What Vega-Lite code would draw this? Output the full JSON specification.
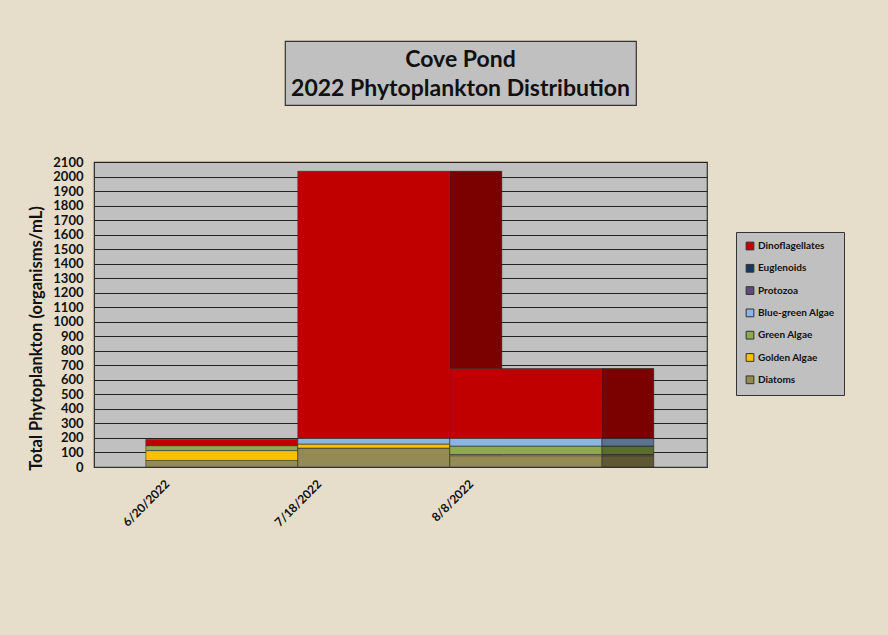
{
  "$schema": "https://vega.github.io/schema/vega-lite/v6.json",
  "background": "#E6DECB",
  "padding": {"left": 28, "top": 40, "right": 60, "bottom": 120},
  "config": {
    "font": "Lato",
    "view": {"fill": "#C0C0C0", "stroke": "#333333", "strokeWidth": 1.2}
  },
  "datasets": {
    "plankton": [
      {"date": "6/20/2022", "group": "Diatoms", "count": 45},
      {"date": "6/20/2022", "group": "Golden Algae", "count": 68},
      {"date": "6/20/2022", "group": "Green Algae", "count": 34},
      {"date": "6/20/2022", "group": "Dinoflagellates", "count": 43},
      {"date": "7/18/2022", "group": "Diatoms", "count": 130},
      {"date": "7/18/2022", "group": "Golden Algae", "count": 28},
      {"date": "7/18/2022", "group": "Blue-green Algae", "count": 40},
      {"date": "7/18/2022", "group": "Dinoflagellates", "count": 1838},
      {"date": "8/8/2022", "group": "Diatoms", "count": 78},
      {"date": "8/8/2022", "group": "Golden Algae", "count": 8},
      {"date": "8/8/2022", "group": "Green Algae", "count": 58},
      {"date": "8/8/2022", "group": "Blue-green Algae", "count": 54},
      {"date": "8/8/2022", "group": "Dinoflagellates", "count": 480}
    ]
  },
  "spacing": 49,
  "vconcat": [
    {
      "spacing": 10,
      "hconcat": [
        {
          "width": 179,
          "height": 64,
          "view": {"fill": "transparent", "stroke": "transparent"},
          "data": {"values": []},
          "mark": {"type": "text"},
          "encoding": {}
        },
        {
          "width": 351,
          "height": 64,
          "view": {"fill": "#C0C0C0", "stroke": "#333333", "strokeWidth": 1.2},
          "data": {"values": [{}]},
          "mark": {
            "type": "text",
            "text": ["Cove Pond", "2022 Phytoplankton Distribution"],
            "fontSize": 23,
            "fontWeight": "bold",
            "lineHeight": 29,
            "color": "#111111",
            "align": "center",
            "baseline": "middle",
            "dy": -13
          },
          "encoding": {}
        }
      ]
    },
    {
      "width": 613,
      "height": 305,
      "data": {"name": "plankton"},
      "transform": [
        {"window": [{"op": "row_number", "as": "rank"}], "groupby": ["date"]}
      ],
      "encoding": {
        "x": {
          "field": "date",
          "type": "nominal",
          "sort": null,
          "scale": {"paddingInner": 0, "paddingOuter": 0.517, "align": 0.33},
          "axis": {
            "title": null,
            "labelAngle": -45,
            "labelFontSize": 12,
            "labelFontWeight": "bold",
            "labelColor": "#111111",
            "ticks": false,
            "labelOffset": -58,
            "labelPadding": 11,
            "domainColor": "#333333",
            "grid": false
          }
        },
        "y": {
          "field": "count",
          "type": "quantitative",
          "aggregate": "sum",
          "stack": "zero",
          "scale": {"domain": [0, 2100], "nice": false},
          "axis": {
            "values": [0, 100, 200, 300, 400, 500, 600, 700, 800, 900, 1000, 1100, 1200, 1300, 1400, 1500, 1600, 1700, 1800, 1900, 2000, 2100],
            "format": "d",
            "title": "Total Phytoplankton (organisms/mL)",
            "titleFontSize": 16.5,
            "titleFontWeight": "bold",
            "titleColor": "#111111",
            "titlePadding": 8,
            "titleY": 176,
            "labelFontSize": 13,
            "labelFontWeight": "bold",
            "labelColor": "#111111",
            "labelPadding": 11,
            "labelFlush": false,
            "labelOverlap": false,
            "ticks": false,
            "domainColor": "#333333",
            "gridColor": "#222222",
            "gridWidth": 1.2,
            "gridOpacity": 1
          }
        }
      },
      "layer": [
        {
          "mark": {"type": "bar", "width": 52, "xOffset": 102, "stroke": "#333333", "strokeWidth": 0.6},
          "encoding": {
            "color": {
              "field": "group",
              "type": "nominal",
              "scale": {
                "domain": ["Dinoflagellates", "Euglenoids", "Protozoa", "Blue-green Algae", "Green Algae", "Golden Algae", "Diatoms"],
                "range": ["#C00000", "#17375E", "#604A7B", "#8DB4E2", "#8FAA4C", "#FFC000", "#948A54"]
              }
            },
            "order": {"field": "rank", "type": "quantitative"}
          }
        },
        {
          "mark": {"type": "bar", "width": 52, "xOffset": 102, "fill": "#000000", "opacity": 0.36}
        },
        {
          "mark": {"type": "bar", "width": {"band": 1}, "stroke": "#333333", "strokeWidth": 0.6},
          "encoding": {
            "color": {
              "field": "group",
              "type": "nominal",
              "scale": {
                "domain": ["Dinoflagellates", "Euglenoids", "Protozoa", "Blue-green Algae", "Green Algae", "Golden Algae", "Diatoms"],
                "range": ["#C00000", "#17375E", "#604A7B", "#8DB4E2", "#8FAA4C", "#FFC000", "#948A54"]
              },
              "legend": {
                "orient": "none",
                "legendX": 642,
                "legendY": 191,
                "title": null,
                "fillColor": "#C0C0C0",
                "strokeColor": "#333333",
                "padding": 9,
                "symbolType": "square",
                "symbolSize": 60,
                "symbolStrokeColor": "#222222",
                "symbolStrokeWidth": 1,
                "symbolOpacity": 1,
                "labelFontSize": 10,
                "labelFontWeight": "bold",
                "labelColor": "#111111",
                "labelOffset": 3,
                "rowPadding": 10.3
              }
            },
            "order": {"field": "rank", "type": "quantitative"}
          }
        }
      ]
    }
  ]
}
